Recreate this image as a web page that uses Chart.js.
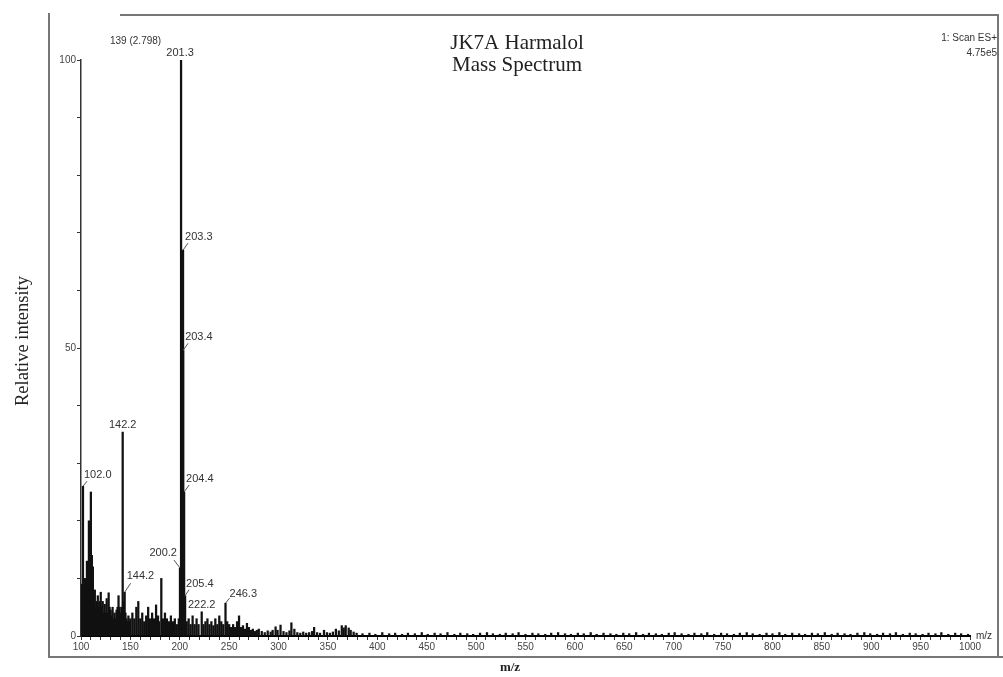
<!DOCTYPE html>
<html>
<head>
<meta charset="utf-8">
<title>JK7A Harmalol Mass Spectrum</title>
<script src="https://cdn.jsdelivr.net/npm/chart.js@4.4.1/dist/chart.umd.min.js"></script>
<style>
  html, body { margin: 0; padding: 0; background: #fff; }
  #wrap { width: 1003px; height: 677px; }
</style>
</head>
<body>
<div id="wrap"><canvas id="spectrum" width="1003" height="677"></canvas></div>
<script>
// peak positions (m/z)
const mzValues = [
  100, 101, 102.0, 103, 104, 105, 106, 107, 108, 109,
  110, 111, 112, 113, 114, 115, 116, 117, 118, 119,
  120, 121, 122, 123, 124, 125, 126, 127, 128, 129,
  130, 131, 132, 133, 134, 135, 136, 137, 138, 139,
  140, 141, 142.2, 143, 144.2, 145, 146, 147, 148, 149,
  150, 152, 154, 156, 158, 160, 162, 164, 166, 168,
  170, 172, 174, 176, 178, 179, 181.3, 183, 185, 187,
  189, 191, 193, 195, 197, 199, 200.2, 201.3, 203.3, 203.4,
  204.4, 205.4, 207, 209, 211, 213, 215, 217, 219, 222.2,
  224, 226, 228, 230, 232, 234, 236, 238, 240, 242,
  244, 246.3, 248, 250, 252, 254, 256, 258, 260, 262,
  264, 266, 268, 270, 272, 274, 276, 278, 280, 283,
  286, 289, 292, 294, 297, 299, 302, 305, 308, 311,
  313, 316, 319, 322, 325, 328, 331, 334, 336, 339,
  342, 346, 349, 352, 355, 358, 361, 364, 366, 368,
  371, 373, 376, 379, 385, 392, 398, 405, 412, 418,
  425, 431, 438, 445, 451, 458, 464, 471, 478, 484,
  491, 497, 504, 511, 517, 524, 530, 537, 543, 550,
  557, 563, 570, 576, 583, 590, 596, 603, 609, 616,
  622, 629, 636, 642, 649, 655, 662, 669, 675, 682,
  688, 695, 701, 708, 715, 721, 728, 734, 741, 748,
  754, 761, 767, 774, 780, 787, 794, 800, 807, 813,
  820, 827, 833, 840, 846, 853, 860, 866, 873, 879,
  886, 893, 899, 906, 912, 919, 925, 932, 939, 945,
  952, 958, 965, 971, 978, 985, 991, 998
];

// relative intensity (%) for each m/z above
const intensities = [
  4, 9, 26, 8, 10, 6, 13, 9, 20, 11,
  25, 14, 12, 7, 8, 5, 6, 7, 5, 6,
  7.6, 5, 6, 4, 5.5, 4, 6.5, 4, 7.5, 5,
  4.5, 3.5, 5, 3, 4, 3, 4.5, 5, 7, 5,
  4, 5, 35.4, 6, 7.6, 4, 3, 2.5, 3.5, 2.5,
  3, 4, 3, 5, 6, 3, 4, 2.5, 3.5, 5,
  3, 4, 3, 5.4, 3.5, 2.5, 10, 3, 4, 3,
  2.5, 3.5, 2.5, 3, 2, 3, 11.8, 100, 67, 49.6,
  25, 7, 2.5, 3, 2, 3.5, 2, 3, 2, 4.2,
  2, 2.5, 3, 2, 2.5, 1.8, 3, 2, 3.5, 2.5,
  2, 5.7, 2.5, 2, 1.5, 2, 1.5, 2.5, 3.5, 1.5,
  1.8, 1.2, 2.2, 1.5, 1.0, 1.2, 0.8, 1.0, 1.2, 0.8,
  0.6, 0.9, 0.7, 1.0, 1.6, 1.0, 1.9, 0.8, 0.6, 0.9,
  2.3, 1.2, 0.6, 0.5, 0.7, 0.5, 0.6, 0.8, 1.5, 0.6,
  0.5, 1.0, 0.6, 0.5, 0.7, 1.2, 0.9, 1.8, 1.4, 1.8,
  1.4, 1.0, 0.7, 0.5, 0.4, 0.5, 0.3, 0.6, 0.4, 0.5,
  0.3, 0.5, 0.4, 0.6, 0.3, 0.5, 0.4, 0.6, 0.3, 0.5,
  0.4, 0.3, 0.5, 0.6, 0.4, 0.3, 0.5, 0.4, 0.6, 0.3,
  0.5, 0.4, 0.3, 0.5, 0.6, 0.4, 0.3, 0.5, 0.4, 0.6,
  0.3, 0.5, 0.4, 0.3, 0.5, 0.4, 0.6, 0.3, 0.5, 0.4,
  0.3, 0.5, 0.6, 0.4, 0.3, 0.5, 0.4, 0.6, 0.3, 0.5,
  0.4, 0.3, 0.5, 0.6, 0.4, 0.3, 0.5, 0.4, 0.6, 0.3,
  0.5, 0.4, 0.3, 0.5, 0.4, 0.6, 0.3, 0.5, 0.4, 0.3,
  0.5, 0.6, 0.4, 0.3, 0.5, 0.4, 0.6, 0.3, 0.5, 0.4,
  0.3, 0.5, 0.4, 0.6, 0.3, 0.5, 0.4, 0.3
];

// peaks that carry an m/z label
const peakLabels = ['102.0', '142.2', '144.2', '200.2', '201.3', '203.3', '203.4', '204.4', '205.4', '222.2', '246.3'];

// axis tick labels
const xTickLabels = [100, 150, 200, 250, 300, 350, 400, 450, 500, 550, 600, 650, 700, 750, 800, 850, 900, 950, 1000];
const yTickLabels = [0, 50, 100];

const SANS = '"Liberation Sans", Arial, sans-serif';
const SERIF = '"Liberation Serif", "Times New Roman", serif';

// where each peak label sits relative to the top of its peak
const labelPlacement = {
  '102.0': { dx: 1, dy: -11, align: 'left', leader: [4, -5] },
  '142.2': { dx: 0, dy: -7, align: 'center' },
  '144.2': { dx: 2, dy: -16, align: 'left', leader: [6, -9] },
  '200.2': { dx: -3, dy: -15, align: 'right', leader: [-6, -8] },
  '201.3': { dx: -1, dy: -7, align: 'center' },
  '203.3': { dx: 2, dy: -13, align: 'left', leader: [5, -7] },
  '203.4': { dx: 2, dy: -13, align: 'left', leader: [5, -7] },
  '204.4': { dx: 2, dy: -13, align: 'left', leader: [5, -7] },
  '205.4': { dx: 1, dy: -12, align: 'left', leader: [4, -6] },
  '222.2': { dx: 0, dy: -7, align: 'center' },
  '246.3': { dx: 4, dy: -9, align: 'left', leader: [4, -5] }
};

const annotate = {
  id: 'annotate',
  afterDatasetsDraw(chart) {
    const { ctx, scales: { x, y } } = chart;
    ctx.save();
    ctx.font = '11px ' + SANS;
    ctx.fillStyle = '#333';
    ctx.strokeStyle = '#555';
    ctx.lineWidth = 1;
    ctx.textBaseline = 'middle';
    peakLabels.forEach(lbl => {
      const m = parseFloat(lbl);
      const i = mzValues.indexOf(m);
      const px = x.getPixelForValue(m);
      const py = y.getPixelForValue(intensities[i]);
      const p = labelPlacement[lbl];
      if (p.leader) {
        ctx.beginPath();
        ctx.moveTo(px, py);
        ctx.lineTo(px + p.leader[0], py + p.leader[1]);
        ctx.stroke();
      }
      ctx.textAlign = p.align;
      ctx.fillText(lbl, px + p.dx, py + p.dy);
    });
    ctx.restore();
  },
  afterDraw(chart) {
    const { ctx, chartArea } = chart;
    ctx.save();
    // outer frame
    ctx.strokeStyle = '#777';
    ctx.lineWidth = 2;
    ctx.beginPath();
    ctx.moveTo(49, 13);
    ctx.lineTo(49, 657);
    ctx.lineTo(1003, 657);
    ctx.moveTo(120, 15);
    ctx.lineTo(998, 15);
    ctx.lineTo(998, 657);
    ctx.stroke();

    // title
    ctx.fillStyle = '#222';
    ctx.textAlign = 'center';
    ctx.textBaseline = 'middle';
    ctx.font = '21px ' + SERIF;
    ctx.fillText('JK7A Harmalol', 517, 43);
    ctx.fillText('Mass Spectrum', 517, 65);

    // scan info
    ctx.font = '10px ' + SANS;
    ctx.fillStyle = '#333';
    ctx.textAlign = 'left';
    ctx.fillText('139 (2.798)', 110, 41);
    ctx.textAlign = 'right';
    ctx.fillText('1: Scan ES+', 997, 38);
    ctx.fillText('4.75e5', 997, 53);

    // axis unit at the end of the x axis
    ctx.textAlign = 'left';
    ctx.fillText('m/z', chartArea.right + 6, chartArea.bottom);

    // axis titles
    ctx.fillStyle = '#222';
    ctx.textAlign = 'center';
    ctx.font = 'bold 13px ' + SERIF;
    ctx.fillText('m/z', 510, 668);
    ctx.font = '18.5px ' + SERIF;
    ctx.translate(23, 341);
    ctx.rotate(-Math.PI / 2);
    ctx.fillText('Relative intensity', 0, 0);
    ctx.restore();
  }
};

const points = mzValues.map((m, i) => ({ x: m, y: intensities[i] }));

new Chart(document.getElementById('spectrum'), {
  type: 'bar',
  data: {
    datasets: [{
      data: points,
      backgroundColor: '#111',
      borderWidth: 0,
      barThickness: 1.6
    }]
  },
  options: {
    responsive: false,
    animation: false,
    devicePixelRatio: 1,
    layout: { padding: { left: 41, right: 33, top: 60, bottom: 21 } },
    plugins: {
      legend: { display: false },
      tooltip: { enabled: false }
    },
    scales: {
      x: {
        type: 'linear',
        min: 100,
        max: 1000,
        offset: false,
        afterFit: s => { s.height = 20; },
        border: { color: '#000', width: 2 },
        grid: { drawOnChartArea: false, offset: false, tickLength: 4, color: '#333' },
        ticks: {
          stepSize: 10,
          autoSkip: false,
          maxRotation: 0,
          maxTicksLimit: 200,
          padding: 1,
          color: '#444',
          font: { family: SANS, size: 10 },
          callback: v => xTickLabels.includes(v) ? String(v) : ''
        }
      },
      y: {
        min: 0,
        max: 100,
        afterFit: s => { s.width = 40; },
        border: { color: '#333', width: 1.5 },
        grid: { drawOnChartArea: false, tickLength: 4, color: '#333' },
        ticks: {
          stepSize: 10,
          autoSkip: false,
          padding: 1,
          color: '#444',
          font: { family: SANS, size: 10 },
          callback: v => yTickLabels.includes(v) ? String(v) : ''
        }
      }
    }
  },
  plugins: [annotate]
});
</script>
</body>
</html>
